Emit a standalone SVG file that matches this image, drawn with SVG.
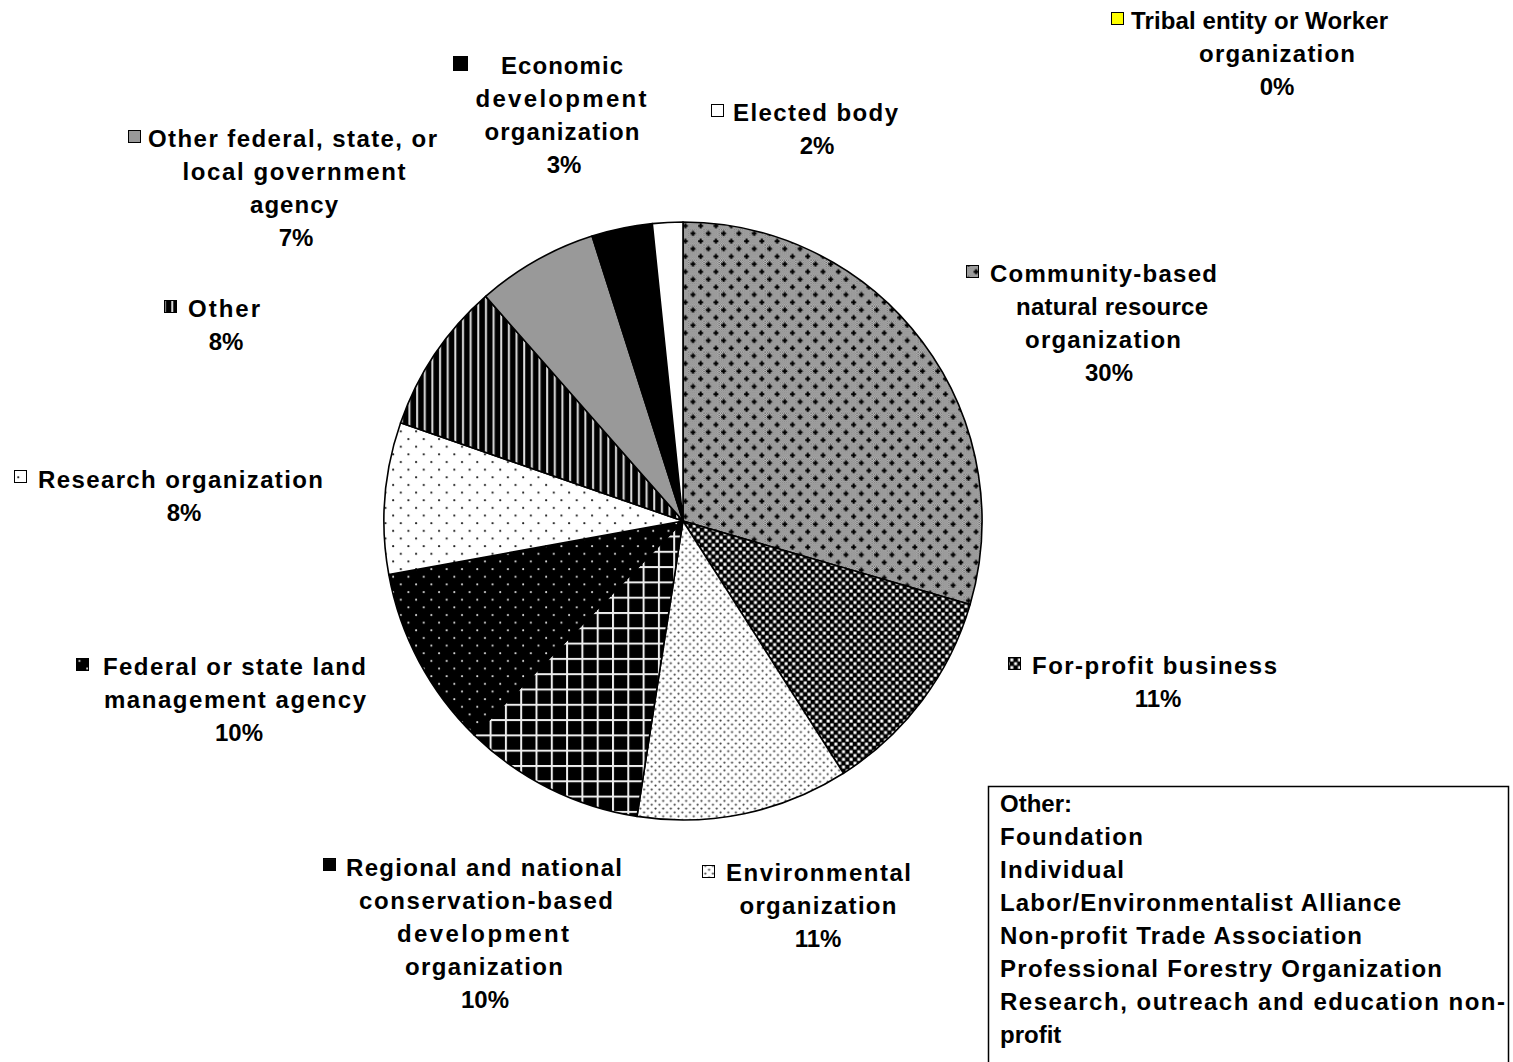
<svg xmlns="http://www.w3.org/2000/svg" width="1513" height="1062" viewBox="0 0 1513 1062">
<style>
text{font-family:"Liberation Sans",Arial,sans-serif;font-weight:bold;font-size:24px;fill:#000}
.c{text-anchor:middle}
.s{stroke:#000;stroke-width:1.6;stroke-linejoin:round}
.k{stroke:#000;stroke-width:1}
</style>
<defs>
<pattern id="chk" width="2" height="2" patternUnits="userSpaceOnUse">
<rect width="2" height="2" fill="#e0e0e0"/><rect width="1" height="1" fill="#555"/><rect x="1" y="1" width="1" height="1" fill="#555"/>
</pattern>
<pattern id="pComm" width="15.3" height="15.3" patternUnits="userSpaceOnUse">
<rect width="15.3" height="15.3" fill="url(#chk)"/>
<path d="M2 3h5v2h-5zM3.5 1.5h2v5h-2z" fill="#000"/>
<path d="M9.65 10.65h5v2h-5zM11.15 9.15h2v5h-2z" fill="#000"/>
</pattern>
<pattern id="pProf" width="7.65" height="7.65" patternUnits="userSpaceOnUse">
<rect width="7.65" height="7.65" fill="#000"/>
<rect x="0.5" y="0.5" width="3" height="3" fill="#fff"/>
<rect x="4.3" y="4.3" width="3" height="3" fill="#fff"/>
</pattern>
<pattern id="pEnv" width="7.65" height="7.65" patternUnits="userSpaceOnUse">
<rect width="7.65" height="7.65" fill="#fff"/>
<circle cx="1.5" cy="1.5" r="1.1" fill="#444"/>
<circle cx="5.3" cy="5.3" r="1.1" fill="#444"/>
</pattern>
<pattern id="pReg" width="15.3" height="15.3" patternUnits="userSpaceOnUse">
<rect width="15.3" height="15.3" fill="#000"/>
<rect x="0" y="0" width="2" height="15.3" fill="#eee"/>
<rect x="0" y="0" width="15.3" height="2" fill="#eee"/>
</pattern>
<pattern id="pFed" width="15.3" height="15.3" patternUnits="userSpaceOnUse">
<rect width="15.3" height="15.3" fill="#000"/>
<circle cx="3" cy="3" r="1" fill="#ddd"/>
<circle cx="10.65" cy="10.65" r="1" fill="#ddd"/>
</pattern>
<pattern id="pRes" width="15.3" height="15.3" patternUnits="userSpaceOnUse">
<rect width="15.3" height="15.3" fill="#fff"/>
<circle cx="3" cy="3" r="1.1" fill="#222"/>
<circle cx="10.65" cy="10.65" r="1.1" fill="#222"/>
</pattern>
<pattern id="pOth" width="7.65" height="20" patternUnits="userSpaceOnUse">
<rect width="7.65" height="20" fill="#000"/>
<rect x="3" y="0" width="2" height="20" fill="#ddd"/>
</pattern>
</defs>

<g id="connectors"></g>

<g id="pie">
<path id="slice-community" class="s" fill="url(#pComm)" d="M683 521L683 222A299 299 0 0 1 970.1 604.6Z"/>
<path id="slice-forprofit" class="s" fill="url(#pProf)" d="M683 521L970.1 604.6A299 299 0 0 1 843.5 773.3Z"/>
<path id="slice-env" class="s" fill="url(#pEnv)" d="M683 521L843.5 773.3A299 299 0 0 1 637 816.4Z"/>
<path id="slice-regional" class="s" fill="url(#pReg)" d="M683 521L637 816.4A299 299 0 0 1 474.3 735.1Z"/>
<path id="slice-federal" class="s" fill="url(#pFed)" d="M683 521L474.3 735.1A299 299 0 0 1 388.8 574.6Z"/>
<path id="slice-research" class="s" fill="url(#pRes)" d="M683 521L388.8 574.6A299 299 0 0 1 400.6 422.8Z"/>
<path id="slice-other" class="s" fill="url(#pOth)" d="M683 521L400.6 422.8A299 299 0 0 1 485.6 296.4Z"/>
<path id="slice-othergov" class="s" fill="#999" d="M683 521L485.6 296.4A299 299 0 0 1 592.1 236.1Z"/>
<path id="slice-econ" class="s" fill="#000" d="M683 521L592.1 236.1A299 299 0 0 1 652.3 223.6Z"/>
<path id="slice-elected" class="s" fill="#fff" d="M683 521L652.3 223.6A299 299 0 0 1 683 222Z"/>
</g>

<g id="label-tribal">
<rect class="k" x="1111.5" y="12.5" width="12" height="12" fill="#ffff00"/>
<text x="1131" y="29" textLength="257">Tribal entity or Worker</text>
<text class="c" x="1277" y="62" textLength="156">organization</text>
<text class="c" x="1277" y="95">0%</text>
</g>
<g id="label-elected">
<rect class="k" x="711.5" y="104.5" width="12" height="12" fill="#fff"/>
<text x="733" y="121" textLength="165">Elected body</text>
<text class="c" x="817" y="154">2%</text>
</g>
<g id="label-econ">
<rect x="453" y="56" width="15" height="15" fill="#000"/>
<text class="c" x="562" y="74" textLength="122">Economic</text>
<text class="c" x="561" y="107" textLength="171">development</text>
<text class="c" x="562" y="140" textLength="155">organization</text>
<text class="c" x="564" y="173">3%</text>
</g>
<g id="label-othergov">
<rect class="k" x="128.5" y="130.5" width="12" height="12" fill="#999"/>
<text x="148" y="147" textLength="289">Other federal, state, or</text>
<text class="c" x="294" y="180" textLength="223">local government</text>
<text class="c" x="294" y="213" textLength="88">agency</text>
<text class="c" x="296" y="246">7%</text>
</g>
<g id="label-other">
<rect class="k" x="164.5" y="300.5" width="12" height="12" fill="url(#pOth)"/>
<text x="188" y="317" textLength="72">Other</text>
<text class="c" x="226" y="350">8%</text>
</g>
<g id="label-research">
<rect class="k" x="14.5" y="470.5" width="12" height="12" fill="url(#pRes)"/>
<text x="38" y="488" textLength="285">Research organization</text>
<text class="c" x="184" y="521">8%</text>
</g>
<g id="label-federal">
<rect class="k" x="76.5" y="658.5" width="12" height="12" fill="url(#pFed)"/>
<text x="103" y="675" textLength="263">Federal or state land</text>
<text class="c" x="235" y="708" textLength="262">management agency</text>
<text class="c" x="239" y="741">10%</text>
</g>
<g id="label-regional">
<rect class="k" x="323.5" y="858.5" width="12" height="12" fill="url(#pReg)"/>
<text x="346" y="876" textLength="276">Regional and national</text>
<text class="c" x="486" y="909" textLength="254">conservation-based</text>
<text class="c" x="483" y="942" textLength="172">development</text>
<text class="c" x="484" y="975" textLength="158">organization</text>
<text class="c" x="485" y="1008">10%</text>
</g>
<g id="label-env">
<rect class="k" x="702.5" y="865.5" width="12" height="12" fill="url(#pEnv)"/>
<text x="726" y="881" textLength="185">Environmental</text>
<text class="c" x="818" y="914" textLength="157">organization</text>
<text class="c" x="818" y="947">11%</text>
</g>
<g id="label-forprofit">
<rect class="k" x="1008.5" y="657.5" width="12" height="12" fill="url(#pProf)"/>
<text x="1032" y="674" textLength="245">For-profit business</text>
<text class="c" x="1158" y="707">11%</text>
</g>
<g id="label-community">
<rect class="k" x="966.5" y="265.5" width="12" height="12" fill="url(#pComm)"/>
<text x="990" y="282" textLength="227">Community-based</text>
<text class="c" x="1112" y="315" textLength="192">natural resource</text>
<text class="c" x="1103" y="348" textLength="156">organization</text>
<text class="c" x="1109" y="381">30%</text>
</g>

<g id="other-box">
<rect x="988.5" y="786.5" width="520" height="290" fill="#fff" stroke="#000" stroke-width="1.5"/>
<text x="1000" y="812">Other:</text>
<text x="1000" y="845" textLength="143">Foundation</text>
<text x="1000" y="878" textLength="124">Individual</text>
<text x="1000" y="911" textLength="401">Labor/Environmentalist Alliance</text>
<text x="1000" y="944" textLength="362">Non-profit Trade Association</text>
<text x="1000" y="977" textLength="442">Professional Forestry Organization</text>
<text x="1000" y="1010" textLength="505">Research, outreach and education non-</text>
<text x="1000" y="1043">profit</text>
</g>
</svg>
